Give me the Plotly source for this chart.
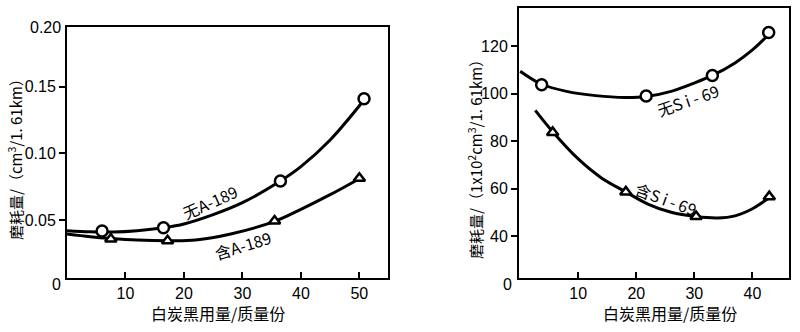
import plotly.graph_objects as go

# ---- left panel data (A-189) ----
a_no_x = [6.0, 16.5, 36.5, 50.8]
a_no_y = [0.0417, 0.0442, 0.0792, 0.141]
a_yes_x = [7.5, 17.2, 35.5, 50.0]
a_yes_y = [0.0357, 0.0345, 0.0493, 0.0813]
# fitted curves
a_no_cx = [0, 4, 8, 12, 16.5, 20, 25, 30, 36.5, 40, 45, 50.8]
a_no_cy = [0.0420, 0.0412, 0.0410, 0.0420, 0.0442, 0.0470, 0.0540, 0.0630, 0.0792, 0.0900, 0.1100, 0.1400]
a_yes_cx = [0, 4, 7.5, 12, 17.2, 22, 28, 35.5, 40, 45, 50.0]
a_yes_cy = [0.0395, 0.0375, 0.0362, 0.0350, 0.0345, 0.0350, 0.0395, 0.0490, 0.0580, 0.0690, 0.0810]

# ---- right panel data (Si-69) ----
s_no_x = [3.7, 21.7, 33.1, 42.8]
s_no_y = [103.8, 99.0, 107.7, 125.8]
s_yes_x = [5.6, 18.2, 30.3, 42.9]
s_yes_y = [83.7, 58.6, 48.2, 56.6]
s_no_cx = [0, 3.7, 8, 13, 18, 21.7, 26, 30, 33.1, 37, 40, 42.8]
s_no_cy = [109.5, 104.0, 101.0, 99.2, 98.4, 98.8, 101.0, 104.5, 107.7, 113.0, 118.5, 125.0]
s_yes_cx = [2.6, 5.6, 10, 14, 18.2, 22, 26, 30.3, 34, 37, 40, 42.8]
s_yes_cy = [93.0, 84.0, 72.5, 64.5, 58.6, 53.5, 50.0, 48.2, 47.6, 48.5, 51.5, 56.0]

left_yticks = [0.05, 0.10, 0.15]
left_yticktext = ["0.05", "0.10", "0.15"]
right_yticks = [40, 60, 80, 100, 120]
x_left_ticks = [10, 20, 30, 40, 50]
x_right_ticks = [10, 20, 30, 40]

fig = go.Figure()

def curve(x, y, xa, ya):
    fig.add_trace(go.Scatter(x=x, y=y, mode="lines", line=dict(color="black", width=3, shape="spline", smoothing=1.0),
                             xaxis=xa, yaxis=ya, hoverinfo="skip", showlegend=False))

def pts(x, y, sym, size, xa, ya):
    fig.add_trace(go.Scatter(x=x, y=y, mode="markers",
                             marker=dict(symbol=sym, size=size, color="white", line=dict(color="black", width=2.5)),
                             xaxis=xa, yaxis=ya, showlegend=False))

curve(a_no_cx, a_no_cy, "x", "y")
curve(a_yes_cx, a_yes_cy, "x", "y")
pts(a_no_x, a_no_y, "circle", 11, "x", "y")
pts(a_yes_x, a_yes_y, "triangle-up", 10, "x", "y")

curve(s_no_cx, s_no_cy, "x2", "y2")
curve(s_yes_cx, s_yes_cy, "x2", "y2")
pts(s_no_x, s_no_y, "circle", 11, "x2", "y2")
pts(s_yes_x, s_yes_y, "triangle-up", 10, "x2", "y2")

W, H = 800, 332
def px(v): return v / W
def py(v): return (H - v) / H

tickfont = dict(family="Liberation Sans, Arial", size=16, color="black")
axcommon = dict(showline=True, mirror=True, linecolor="black", linewidth=2, showgrid=False, zeroline=False,
                tickfont=tickfont, tickcolor="black", ticklen=6, tickwidth=2)

fig.update_layout(
    width=W, height=H, margin=dict(l=0, r=0, t=0, b=0),
    plot_bgcolor="white", paper_bgcolor="white",
    xaxis=dict(domain=[px(67), px(388)], range=[0, 54.9], anchor="y", tickvals=x_left_ticks, ticks="inside", **axcommon),
    yaxis=dict(domain=[py(278), py(27)], range=[0.0065, 0.1948], anchor="x", tickvals=left_yticks,
               ticktext=left_yticktext, ticks="outside", **axcommon),
    xaxis2=dict(domain=[px(519), px(789)], range=[-0.2, 46.3], anchor="y2", tickvals=x_right_ticks, ticks="inside", **axcommon),
    yaxis2=dict(domain=[py(278), py(8)], range=[22.3, 136.15], anchor="x2", tickvals=right_yticks, ticks="outside", **axcommon),
)

cjk = "Noto Sans CJK SC"
ann = []
def pa(x, y, text, font, angle=0, xanchor="center", yanchor="middle"):
    ann.append(dict(x=px(x), y=py(y), xref="paper", yref="paper", text=text, showarrow=False,
                    xanchor=xanchor, yanchor=yanchor, textangle=angle, font=font))

# corner labels
pa(63, 284, "0", tickfont, xanchor="right")
pa(63, 27, "0.20", tickfont, xanchor="right")
pa(514, 284, "0", tickfont, xanchor="right")
# axis titles
tf = dict(family=cjk, size=15, color="black")
pa(15, 156, "磨耗量/（cm<sup>3</sup>/1. 61km）", tf, angle=-90)
pa(475, 156, "磨耗量/（1x10<sup>2</sup>cm<sup>3</sup>/1. 61km）", tf, angle=-90)
xf = dict(family=cjk, size=16, color="black")
pa(218, 313, "白炭黑用量/质量份", xf)
pa(670, 313, "白炭黑用量/质量份", xf)
# curve labels
lf = dict(family=cjk, size=16, color="black")
ann.append(dict(x=24.4, y=0.0635, xref="x", yref="y", text="无A-189", textangle=-24, showarrow=False, font=lf,
                xanchor="center", yanchor="middle"))
ann.append(dict(x=30.1, y=0.031, xref="x", yref="y", text="含A-189", textangle=-17, showarrow=False, font=lf,
                xanchor="center", yanchor="middle"))
ann.append(dict(x=28.9, y=97.3, xref="x2", yref="y2", text="无S i - 69", textangle=-19, showarrow=False, font=lf,
                xanchor="center", yanchor="middle"))
ann.append(dict(x=25.2, y=55.5, xref="x2", yref="y2", text="含S i - 69", textangle=20, showarrow=False, font=lf,
                xanchor="center", yanchor="middle"))
fig.update_layout(annotations=ann)

fig.write_html("out.html")
